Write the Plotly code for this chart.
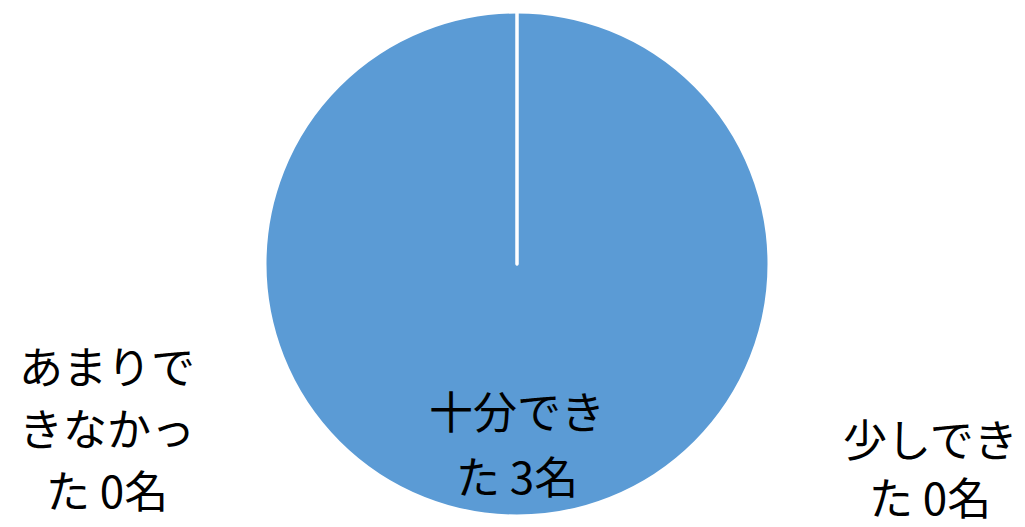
import plotly.graph_objects as go

labels = ["十分できた", "少しできた", "あまりできなかった"]
values = [3, 0, 0]
units = "名"
colors = ["#5B9BD5", "#ED7D31", "#A5A5A5"]

W, H = 1025, 527
OFF = 8  # page body margin in the browser
FONT = "Noto Sans CJK JP, Noto Sans, sans-serif"

def fx(px):
    return (px - OFF) / W

def fy(py):
    return 1 - (py - OFF) / H

fig = go.Figure(go.Pie(
    labels=labels, values=values, sort=False, direction="clockwise", rotation=0,
    marker=dict(colors=colors, line=dict(color="white", width=3)),
    textinfo="none", hoverinfo="label+value", showlegend=False,
    domain=dict(x=[fx(265), fx(769)], y=[fy(516), fy(12)]),
))

# label text lines (data-driven text)
label_lines = [
    ["十分でき", f"た {values[0]}{units}"],
    ["少しでき", f"た {values[1]}{units}"],
    ["あまりで", "きなかっ", f"た {values[2]}{units}"],
]
label_anchor = [(517, 410, 65), (930, 438, 58), (107, 365, 62)]
for lines, (px, py, dy) in zip(label_lines, label_anchor):
    for i, t in enumerate(lines):
        fig.add_annotation(text=t, x=fx(px), y=fy(py + i * dy), xref="paper", yref="paper",
                           showarrow=False, xanchor="center", yanchor="middle",
                           align="center", borderpad=0,
                           font=dict(size=44, color="black", family=FONT))

fig.update_layout(width=W, height=H, margin=dict(l=0, r=0, t=0, b=0),
                  paper_bgcolor="white", plot_bgcolor="white")
fig.write_html("out.html")
